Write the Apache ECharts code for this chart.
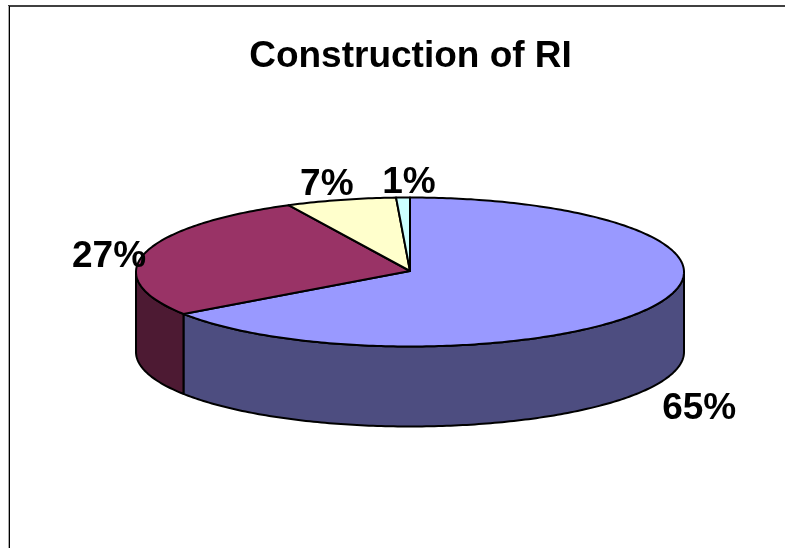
<!DOCTYPE html>
<html>
<head>
<meta charset="utf-8">
<style>html,body{margin:0;padding:0;background:#fff}#main{width:785px;height:548px}</style>
<script src="https://cdn.jsdelivr.net/npm/echarts@6/dist/echarts.min.js"></script>
</head>
<body>
<div id="main"></div>
<script>
var categories = ['A', 'B', 'C', 'D'];
var values = [65.49, 27.2, 6.5, 0.81];

var topColors = ['#9999FF', '#993366', '#FFFFCC', '#CCFFFF'];
var sideColors = ['#4D4D80', '#4D1A33', '#808066', '#668080'];
// label shift from the rim point at each slice's middle angle
var labelShift = [[47, 102], [-36, 4], [-14, -15], [6, -15]];

var cx = 410, cy = 272, rx = 274, ry = 74.5, depth = 80;
var total = values.reduce(function (s, v) { return s + v; }, 0);

function rim(a, dy) {
    return [cx + rx * Math.sin(a), cy - ry * Math.cos(a) + (dy || 0)];
}
function arc(a0, a1, dy) {
    var pts = [], n = Math.max(2, Math.ceil((a1 - a0) / 0.015));
    for (var i = 0; i <= n; i++) pts.push(rim(a0 + (a1 - a0) * i / n, dy));
    return pts;
}
function startOf(idx) {
    var s = 0;
    for (var i = 0; i < idx; i++) s += values[i];
    return s / total * Math.PI * 2;
}
var lineStyle = { stroke: '#000', lineWidth: 2, lineJoin: 'round' };

// one group per slice, wall first, top after
function renderSlice(params, api) {
    var i = params.dataIndex;
    var a0 = startOf(i);
    var a1 = a0 + api.value(1) / total * Math.PI * 2;
    var children = [];
    // the wall shows only on the front half
    var w0 = Math.max(a0, Math.PI / 2), w1 = Math.min(a1, Math.PI * 1.5);
    if (w1 > w0) {
        var wall = arc(w0, w1).concat(arc(w0, w1, depth).reverse());
        children.push({
            type: 'polygon', shape: { points: wall },
            style: Object.assign({ fill: sideColors[i] }, lineStyle)
        });
    }
    var top = [[cx, cy - 1]].concat(arc(a0, a1));
    children.push({
        type: 'polygon', z2: 5, shape: { points: top },
        style: Object.assign({ fill: topColors[i] }, lineStyle)
    });
    var mid = rim((a0 + a1) / 2);
    children.push({
        type: 'text', z2: 10,
        style: {
            x: mid[0] + labelShift[i][0], y: mid[1] + labelShift[i][1],
            text: Math.round(api.value(1) / total * 100) + '%',
            fill: '#000', align: 'center', verticalAlign: 'middle',
            font: 'bold 37px "Liberation Sans", Arial, sans-serif'
        }
    });
    return { type: 'group', children: children };
}

var myChart = echarts.init(document.getElementById('main'));
var option = {
    animation: false,
    title: {
        text: 'Construction of RI',
        left: 410,
        top: 33,
        textAlign: 'center',
        textStyle: { fontFamily: '"Liberation Sans", Arial, sans-serif', fontWeight: 'bold', fontSize: 37, color: '#000' }
    },
    // chart frame: only the top and left edges fall inside the picture
    graphic: [{
        type: 'line', silent: true,
        shape: { x1: 8, y1: 6, x2: 785, y2: 6 },
        style: { stroke: '#404040', lineWidth: 2 }
    }, {
        type: 'line', silent: true,
        shape: { x1: 8.5, y1: 6, x2: 8.5, y2: 548 },
        style: { stroke: '#aaaaaa', lineWidth: 1 }
    }, {
        type: 'line', silent: true,
        shape: { x1: 9.5, y1: 6, x2: 9.5, y2: 548 },
        style: { stroke: '#000', lineWidth: 1 }
    }],
    series: [{
        type: 'custom',
        coordinateSystem: 'none',
        renderItem: renderSlice,
        data: categories.map(function (c, i) { return [c, values[i]]; })
    }]
};
myChart.setOption(option);
myChart.setOption({ title: { left: 405.5 } });
window.onresize = function () {
    myChart.resize();
};
</script>
</body>
</html>
